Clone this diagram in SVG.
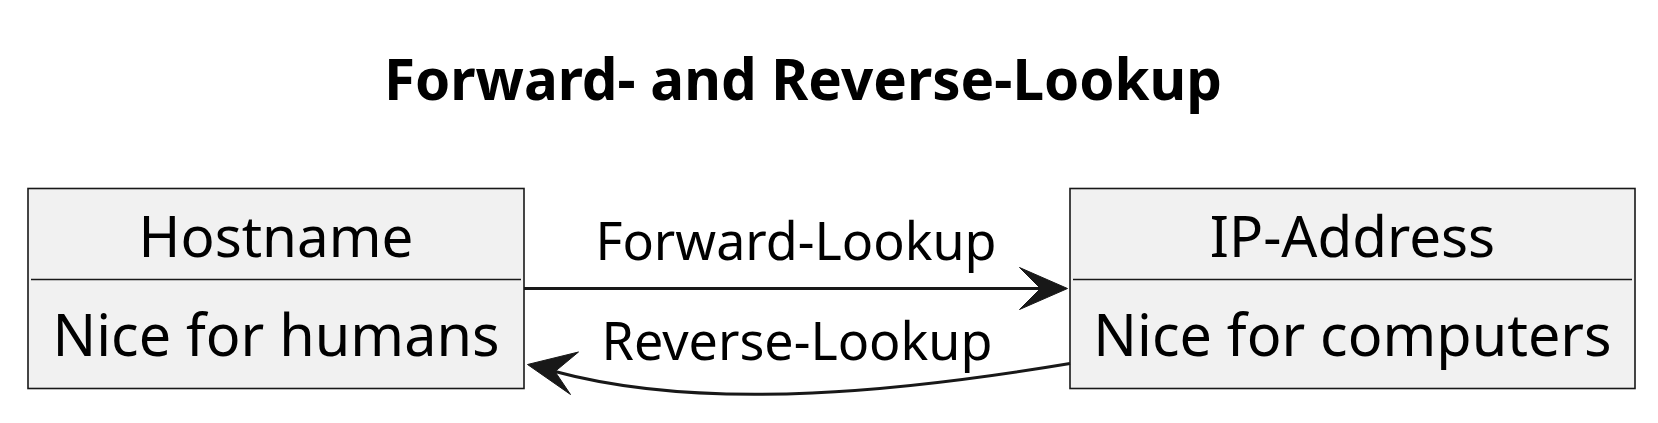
<svg xmlns="http://www.w3.org/2000/svg" width="1658" height="423" viewBox="0 0 1658 423">
<style>
.box{fill:#F1F1F1;stroke:#181818;stroke-width:1.6}
.sep{stroke:#181818;stroke-width:1.6}
.t{font-family:"Noto Sans",sans-serif;fill:#000;text-anchor:middle}
.name{font-size:56.5px}
.attr{font-size:57.5px}
.lbl{font-size:52px}
.title{font-size:56.5px;font-weight:bold}
.edge{fill:none;stroke:#181818;stroke-width:3}
.head{fill:#181818;stroke:#181818;stroke-width:1}
</style>
<rect width="1658" height="423" fill="#FFFFFF"/>
<text class="t title" x="803" y="99.5">Forward- and Reverse-Lookup</text>
<g id="hostname">
<rect class="box" x="28" y="188.5" width="496" height="200"/>
<line class="sep" x1="31" y1="279.5" x2="521" y2="279.5"/>
<text class="t name" x="276" y="257">Hostname</text>
<text class="t attr" x="276" y="356">Nice for humans</text>
</g>
<g id="ipaddress">
<rect class="box" x="1070" y="188.5" width="565" height="200"/>
<line class="sep" x1="1073" y1="279.5" x2="1632" y2="279.5"/>
<text class="t name" x="1352.5" y="257">IP-Address</text>
<text class="t attr" x="1352.5" y="356">Nice for computers</text>
</g>
<g id="connectors">
<line class="edge" x1="524" y1="288.5" x2="1042" y2="288.5"/>
<polygon class="head" points="1067.5,288.5 1019.5,267.5 1040.5,288.5 1019.5,309.5"/>
<text class="t lbl" x="796" y="260">Forward-Lookup</text>
<path class="edge" d="M1070,363.5 C914,389.5 710,413.5 555,371.5"/>
<polygon class="head" points="527.5,364.5 578.5,352 555,371.5 570.5,394.5"/>
<text class="t lbl" x="797" y="359.5">Reverse-Lookup</text>
</g>
</svg>
